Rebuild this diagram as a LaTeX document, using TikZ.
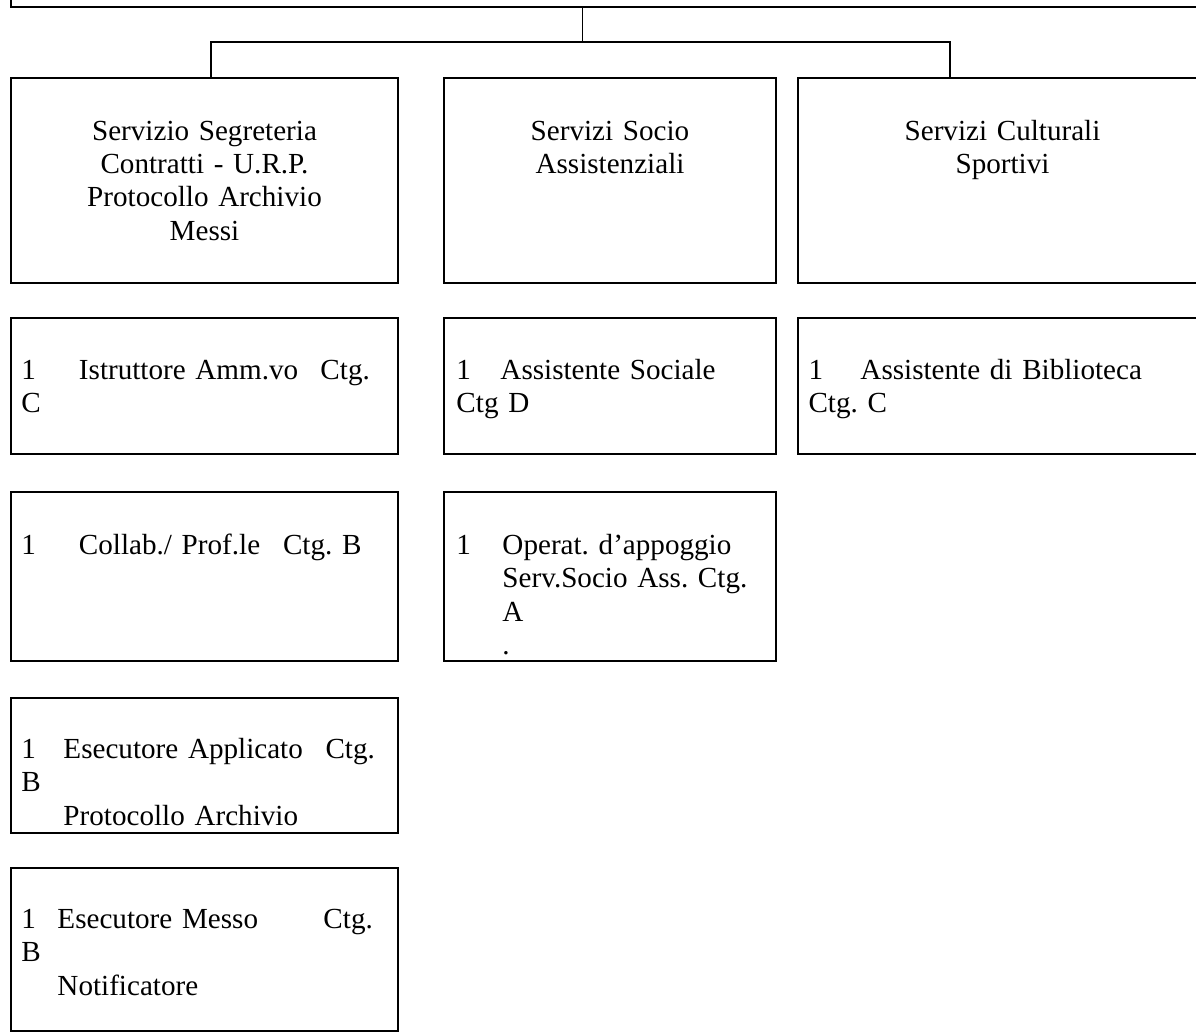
\documentclass[tikz,border=0pt]{standalone}
\usepackage{fontspec}
\setmainfont{Liberation Serif}
\usepackage{tikz}
\usetikzlibrary{fit}
\newlength{\pxu}
\setlength{\pxu}{0.412pt}
\frenchspacing

\begin{document}
\begin{tikzpicture}[
  x=\pxu, y=-\pxu,
  cell/.style={draw, line width=0.8pt, inner sep=0pt},
  head/.style={anchor=base, align=center, inner sep=0pt,
               font=\fontsize{12}{13.8}\selectfont},
  post/.style={anchor=base west, align=left, inner sep=0pt, text width=360\pxu,
               font=\fontsize{12}{13.8}\selectfont},
  wire/.style={line width=0.8pt},
  stem/.style={line width=0.4pt}
]
\useasboundingbox (0,0) rectangle (1196,1032);
\clip (0,0) rectangle (1196,1032);

% upper level (only its lower edge is on the page)
\node[cell, fit={(11,-60) (1260,7)}] (ente) {};

% services
\node[cell, fit={(11,78) (398,283)}] (segr) {};
\node[cell, fit={(444,78) (776,283)}] (socio) {};
\node[cell, fit={(798,78) (1207,283)}] (cult) {};
\node[head, text width=387\pxu] (segrT) at (204.5,140)
  {Servizio Segreteria\\Contratti - U.R.P.\\Protocollo Archivio\\Messi};
\node[head, text width=332\pxu] (socioT) at (610,140)
  {Servizi Socio\\Assistenziali};
\node[head, text width=409\pxu] (cultT) at (1002.5,140)
  {Servizi Culturali\\Sportivi};

% staff, first row
\node[cell, fit={(11,318) (398,454)}] (istr) {};
\node[cell, fit={(444,318) (776,454)}] (asoc) {};
\node[cell, fit={(798,318) (1207,454)}] (bibl) {};
\node[post] (istrT) at (21,379)
  {\makebox[57.5\pxu][l]{1}\makebox[241.5\pxu][l]{Istruttore Amm.vo}Ctg.\\C};
\node[post] (asocT) at (456,379)
  {\makebox[44\pxu][l]{1}Assistente Sociale\\Ctg D};
\node[post] (biblT) at (808,379)
  {\makebox[52\pxu][l]{1}Assistente di Biblioteca\\Ctg. C};

% staff, second row
\node[cell, fit={(11,492) (398,661)}] (coll) {};
\node[cell, fit={(444,492) (776,661)}] (oper) {};
\node[post] (collT) at (21,554)
  {\makebox[57.5\pxu][l]{1}\makebox[204\pxu][l]{Collab./ Prof.le}Ctg. B};
\node[post] (operT) at (456,554)
  {\makebox[46\pxu][l]{1}Operat. d’appoggio\\
   \hspace*{46\pxu}Serv.Socio Ass. Ctg.\\
   \hspace*{46\pxu}A\\
   \hspace*{46\pxu}.};

% staff, further rows
\node[cell, fit={(11,698) (398,833)}] (appl) {};
\node[cell, fit={(11,868) (398,1031)}] (mess) {};
\node[post] (applT) at (21,758)
  {\makebox[42\pxu][l]{1}\makebox[262\pxu][l]{Esecutore Applicato}Ctg.\\B\\
   \hspace*{42\pxu}Protocollo Archivio};
\node[post] (messT) at (21,928)
  {\makebox[36\pxu][l]{1}\makebox[266\pxu][l]{Esecutore Messo}Ctg.\\B\\
   \hspace*{36\pxu}Notificatore};

% connectors
\coordinate (busL) at (211,42);
\coordinate (busM) at (582,42);
\coordinate (busR) at (950,42);
\draw[stem] (ente.south -| busM) -- (busM);
\draw[wire] (segr.north -| busL) |- (busR) -- (cult.north -| busR);
\end{tikzpicture}
\end{document}
